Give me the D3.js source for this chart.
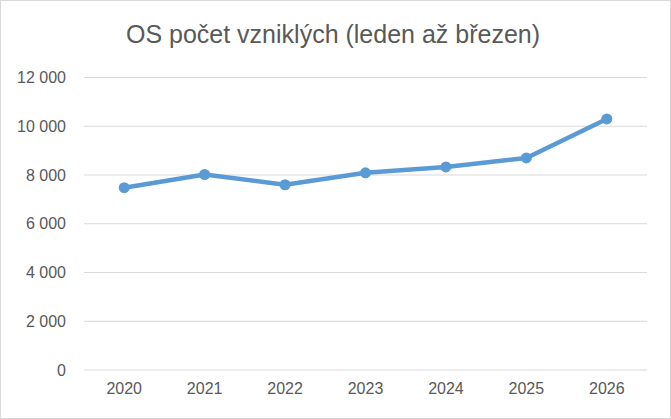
<!DOCTYPE html>
<html><head><meta charset="utf-8">
<script src="https://cdn.jsdelivr.net/npm/d3@7"></script>
<style>body{margin:0;background:#fff}svg{display:block}</style>
</head><body>
<svg id="c" width="671" height="419"></svg>
<script>
const categories = ["2020","2021","2022","2023","2024","2025","2026"];
const values = [7480, 8020, 7600, 8090, 8330, 8700, 10300];
const yTicks = [0, 2000, 4000, 6000, 8000, 10000, 12000];
const title = "OS počet vzniklých (leden až březen)";

const svg = d3.select("#c");
const W = 671, H = 419;
const m = {l: 84, r: 24, t: 77.5, b: 49};
const FONT = "'Liberation Sans', Arial, sans-serif";
svg.append("rect").attr("x",0.5).attr("y",0.5).attr("width",W-1).attr("height",H-1)
  .attr("fill","#fff").attr("stroke","#d9d9d9");

const x = d3.scaleBand().domain(categories).range([m.l, W-m.r]);
const y = d3.scaleLinear().domain([0,12000]).range([H-m.b, m.t]);
const fmt = v => d3.format(",")(v).replace(/,/g, "\u00a0");

svg.append("g").selectAll("line").data(yTicks).join("line")
  .attr("x1", m.l).attr("x2", W-m.r)
  .attr("y1", d=>y(d)).attr("y2", d=>y(d))
  .attr("stroke","#d9d9d9").attr("stroke-width",1);

const yAxis = d3.axisLeft(y).tickValues(yTicks).tickFormat(fmt).tickSize(0).tickPadding(18);
const ya = svg.append("g").attr("transform",`translate(${m.l},0)`).call(yAxis);
ya.select(".domain").remove();
ya.selectAll("text").attr("fill","#595959").style("font-family",FONT).style("font-size","16px");

const xAxis = d3.axisBottom(x).tickSize(0).tickPadding(13);
const xa = svg.append("g").attr("transform",`translate(0,${H-m.b})`).call(xAxis);
xa.select(".domain").remove();
xa.selectAll("text").attr("fill","#595959").style("font-family",FONT).style("font-size","16px");

const line = d3.line().x((d,i)=>x(categories[i])+x.bandwidth()/2).y(d=>y(d));
svg.append("path").datum(values).attr("d",line).attr("fill","none")
  .attr("stroke","#5b9bd5").attr("stroke-width",4.5).attr("stroke-linejoin","round").attr("stroke-linecap","round");
svg.selectAll("circle.pt").data(values).join("circle")
  .attr("cx",(d,i)=>x(categories[i])+x.bandwidth()/2).attr("cy",d=>y(d)).attr("r",5.5)
  .attr("fill","#5b9bd5");

svg.append("text").attr("x",333).attr("y",43).attr("text-anchor","middle")
  .attr("fill","#595959").style("font-family",FONT).style("font-size","25px")
  .text(title);
</script>
</body></html>
